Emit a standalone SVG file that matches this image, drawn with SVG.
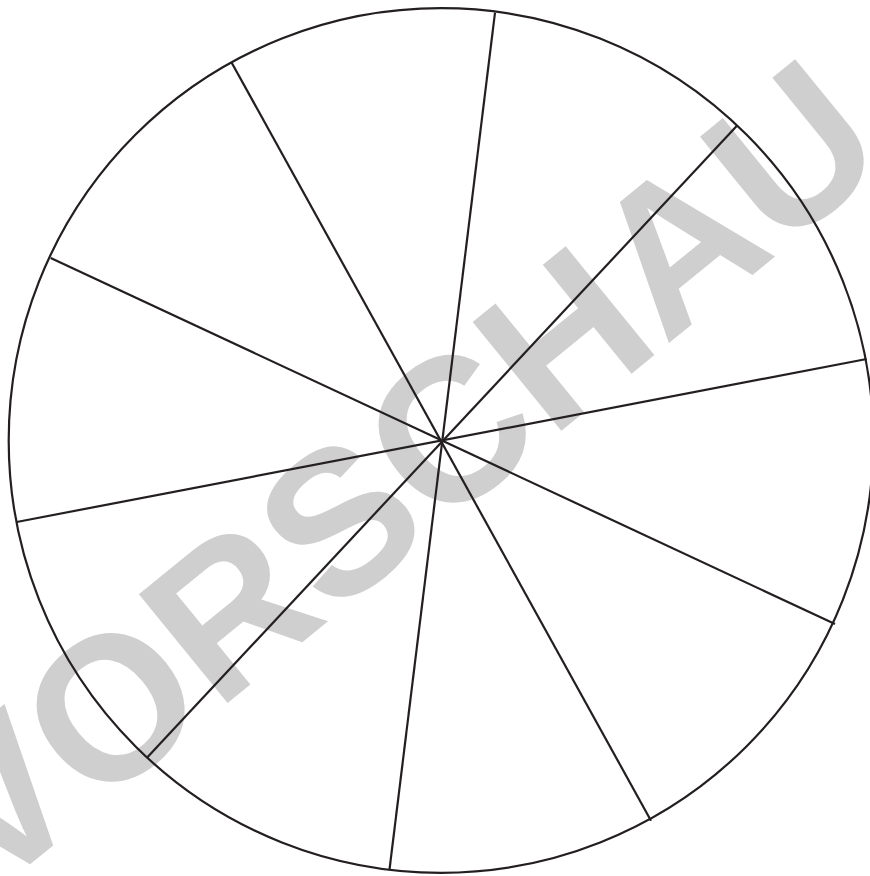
<svg xmlns="http://www.w3.org/2000/svg" width="870" height="876" viewBox="0 0 870 876">
<style>
.wm{font-family:"Liberation Sans",Arial,sans-serif;font-weight:bold;fill:#cfcfcf}
.ln{stroke:#231f20;stroke-width:2.2;fill:none;stroke-linecap:butt}
</style>
<rect width="870" height="876" fill="#ffffff"/>
<text class="wm" x="0" y="0" font-size="204" text-anchor="middle" transform="translate(441,529) rotate(-39.2)">VORSCHAU</text>
<g id="wheel">
<circle class="ln" cx="441" cy="440.5" r="432.3"/>
</g>
<g id="connectors">
<line class="ln" x1="231.7" y1="62.7" x2="651" y2="820.7"/>
<line class="ln" x1="495" y1="12.7" x2="389.5" y2="869.5"/>
<line class="ln" x1="736.7" y1="126" x2="146.7" y2="758"/>
<line class="ln" x1="866.7" y1="359" x2="16.7" y2="522"/>
<line class="ln" x1="50.7" y1="258" x2="835" y2="624"/>
</g>
</svg>
